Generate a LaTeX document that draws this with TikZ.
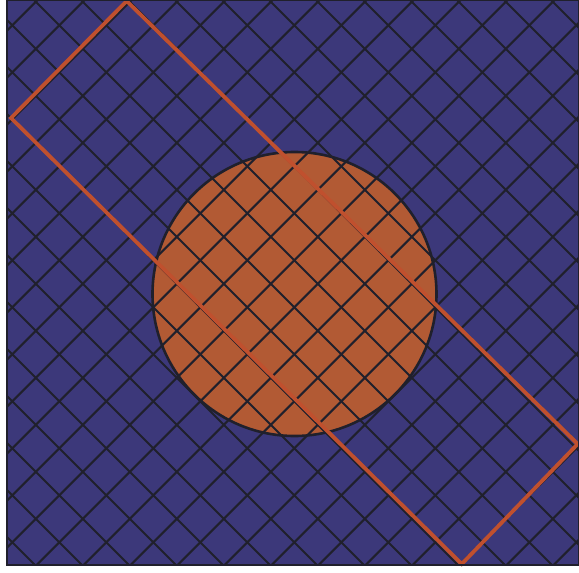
\documentclass[tikz,border=0pt]{standalone}
\definecolor{bgblue}{RGB}{60,56,122}
\definecolor{gridc}{RGB}{32,32,44}
\definecolor{disc}{RGB}{178,90,52}
\definecolor{band}{RGB}{192,80,46}
\tikzset{
  gridline/.style={gridc, line width=2.1},
  bandline/.style={band, line width=3.8, line join=miter},
  discfill/.style={fill=disc},
}
\begin{document}
\begin{tikzpicture}[x=1pt,y=-1pt]
\useasboundingbox (0,0) rectangle (579,573);
\fill[white] (0,0) rectangle (579,573);
\fill[bgblue] (7,0) rectangle (579,565);
\coordinate (C) at (294.5,294);
\begin{scope}
  \clip (7,0) rectangle (579,565);
  \fill[discfill] (C) circle[radius=142];
  \foreach \k in {-2,...,26} {
    \draw[gridline] ({37.6+47*\k+10},-10) -- ({37.6+47*\k-600},600);
  }
  \foreach \k in {-14,...,13} {
    \draw[gridline] ({34+47*\k-10},-10) -- ({34+47*\k+600},600);
  }
  \draw[gridc, line width=2.6] (C) circle[radius=142];
\end{scope}
\coordinate (T) at (126.7,1);
\coordinate (R) at (577.7,444);
\coordinate (B) at (461.7,564);
\coordinate (L) at (11,118);
\draw[bandline] (T) -- (R) -- (B) -- (L) -- cycle;
\draw[gridc, line width=2] (7,0) rectangle (579,565);
\end{tikzpicture}
\end{document}
